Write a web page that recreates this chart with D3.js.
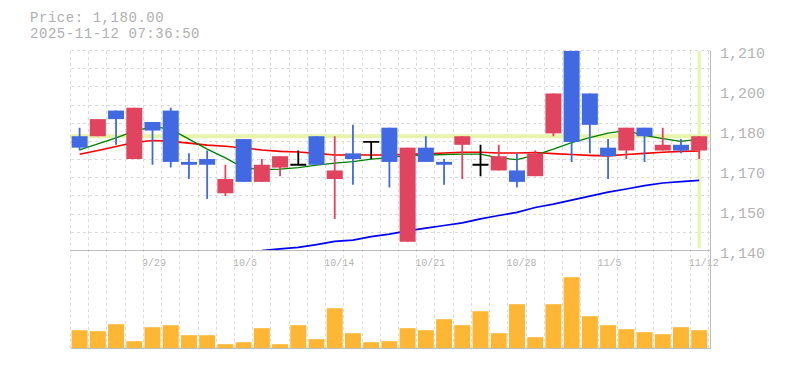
<!DOCTYPE html>
<html>
<head>
<meta charset="utf-8">
<title>Price chart</title>
<style>
  body { margin: 0; background: #fff; }
  svg { display: block; }
  text { font-family: "Liberation Mono", "DejaVu Sans Mono", monospace; fill: #b0b0b0; }
</style>
</head>
<body>
<svg></svg>
<script src="https://d3js.org/d3.v7.min.js"></script>
<script>
// daily candles, 9/22 .. 11/12
var dates = ["9/22","9/24","9/25","9/26","9/29","9/30","10/1","10/2","10/3","10/6",
             "10/7","10/8","10/9","10/10","10/14","10/15","10/16","10/17","10/20","10/21",
             "10/22","10/23","10/24","10/27","10/28","10/29","10/30","10/31","11/4","11/5",
             "11/6","11/7","11/10","11/11","11/12"];
var opens  = [1180,1180,1189,1172,1185,1189,1171,1172,1160,1179,
              1164,1169,1170,1180,1165,1174,1178,1183,1143,1176,
              1171,1177,1170,1168,1168,1166,1181,1210,1195,1176,
              1175,1183,1175,1177,1175];
var highs  = [1183,1186,1189,1190,1185,1190,1174,1175,1170,1179,
              1172,1173,1175,1180,1180,1184,1178,1183,1176,1180,
              1172,1180,1177,1177,1174,1175,1195,1210,1195,1179,
              1183,1183,1183,1179,1180];
var lows   = [1175,1180,1177,1172,1170,1169,1165,1158,1159,1164,
              1164,1166,1170,1170,1151,1163,1172,1162,1143,1171,
              1163,1165,1166,1168,1162,1166,1180,1171,1174,1165,
              1172,1171,1175,1174,1172];
var closes = [1176,1186,1186,1190,1182,1171,1170,1170,1165,1164,
              1170,1173,1170,1170,1168,1172,1178,1171,1176,1171,
              1170,1180,1170,1173,1164,1174,1195,1178,1184,1173,
              1183,1180,1177,1175,1180];
// moving averages (green / red / blue)
var ma5  = [1175.2,1177.3,1179.4,1181.8,1183.4,1182.5,1179,1175.5,1172.4,1168.9,
            1168.3,1168.5,1169,1169.9,1170.6,1171.1,1172,1172.5,1173.3,1173.4,
            1173.6,1173.7,1173.7,1172.4,1171.8,1173.4,1175.5,1177.8,1179.5,1181.1,
            1182,1180.3,1179.2,1178.2,1179];
var ma25 = [1173.7,1175,1176.4,1177.8,1178.5,1178.2,1177.6,1176.9,1176.5,1175.9,
            1175.2,1174.7,1174.5,1174,1173.4,1173.4,1173.4,1173.4,1173.7,1173.8,
            1174.1,1174.4,1174.4,1174.1,1174.1,1174.3,1173.9,1173.6,1173.3,1173.1,
            1173.6,1174,1174.4,1174.7,1174.8];
var ma75 = [null,null,null,null,null,null,null,null,null,null,
            1139.9,1140.5,1141,1142,1143.1,1143.6,1144.8,1145.7,1146.8,1147.8,
            1148.7,1149.6,1151,1152.2,1153.3,1155,1156.2,1157.6,1159,1160.4,
            1161.5,1162.7,1163.6,1164.1,1164.5];
var volumes = [183,173,243,73,213,233,133,133,43,63,
               203,43,233,93,403,153,63,73,203,183,
               293,233,373,153,443,113,443,713,323,233,
               193,163,143,213,183];
var priceTicks = [1140, 1154, 1168, 1182, 1196, 1210];
var dateTicks = ["9/29","10/6","10/14","10/21","10/28","11/5","11/12"];
var lastPrice = 1180;
var titleLines = ["Price: 1,180.00", "2025-11-12 07:36:50"];

var svg = d3.select("svg").attr("width", 785).attr("height", 370);

// plot frame
var plotLeft = 70.5, plotRight = 708.3, frameRight = 710.5;
var plotTop = 50.7, plotBottom = 250.3, volBottom = 348.5;

var x = d3.scaleBand().domain(d3.range(dates.length)).range([plotLeft, plotRight]);
var y = d3.scaleLinear().domain([1140, 1210]).range([plotBottom, plotTop]);
var yVol = d3.scaleLinear().domain([0, 780]).range([volBottom, 270.5]);
var cx = function(i) { return x(i) + x.bandwidth() / 2; };
var bodyW = 16;

var up = "#e0445f", down = "#4169e1";

// date labels (the grid runs over them)
var xAxis = d3.axisBottom(x)
    .tickValues(dateTicks.map(function(d) { return dates.indexOf(d); }))
    .tickFormat(function(i) { return dates[i]; })
    .tickSize(0);
var gx = svg.append("g").attr("transform", "translate(0," + 250.5 + ")").call(xAxis);
gx.select(".domain").remove();
gx.selectAll("text")
    .attr("x", -10.5).attr("y", 15.5).attr("dy", null)
    .attr("text-anchor", "start")
    .style("font-size", "10px").style("fill", "#b4b4b4");

// grid
var grid = svg.append("g")
    .attr("stroke", "#dcdcdc").attr("stroke-dasharray", "3,3")
    .attr("shape-rendering", "crispEdges");
var vlines = d3.range(dates.length + 1).map(function(k) { return plotLeft + k * x.step(); });
grid.selectAll(".v").data(vlines).enter().append("line")
    .attr("x1", function(d) { return d; }).attr("x2", function(d) { return d; })
    .attr("y1", plotTop).attr("y2", volBottom);
var hlines = d3.range(11).map(function(k) { return plotTop + k * (plotBottom - plotTop) / 11; });
grid.selectAll(".h").data(hlines).enter().append("line")
    .attr("x1", plotLeft).attr("x2", frameRight)
    .attr("y1", function(d) { return d; }).attr("y2", function(d) { return d; });

// current price / current day markers
svg.append("line")
    .attr("x1", plotLeft).attr("x2", frameRight)
    .attr("y1", y(lastPrice)).attr("y2", y(lastPrice))
    .attr("stroke", "#e6f5a9").attr("stroke-width", 4);
svg.append("line")
    .attr("x1", cx(dates.length - 1)).attr("x2", cx(dates.length - 1))
    .attr("y1", plotTop + 0.5).attr("y2", plotBottom - 2)
    .attr("stroke", "#e6f5a9").attr("stroke-width", 3);

// moving average lines
svg.append("clipPath").attr("id", "plotclip").append("rect")
    .attr("x", plotLeft).attr("y", plotTop).attr("width", frameRight - plotLeft).attr("height", plotBottom - plotTop);
var line = d3.line()
    .defined(function(d) { return d != null; })
    .x(function(d, i) { return cx(i); })
    .y(function(d) { return y(d); });
[[ma25, "#ff0000", 1.6], [ma5, "#008000", 1.3], [ma75, "#0000ff", 1.7]].forEach(function(m) {
    svg.append("path").datum(m[0])
        .attr("clip-path", "url(#plotclip)")
        .attr("fill", "none").attr("stroke", m[1]).attr("stroke-width", m[2])
        .attr("d", line);
});

// candles
var candles = d3.range(dates.length).map(function(i) {
    return {i: i, o: opens[i], h: highs[i], l: lows[i], c: closes[i]};
});
function colorOf(d) { return d.c > d.o ? up : (d.c < d.o ? down : "#000"); }
var cg = svg.append("g").attr("clip-path", "url(#plotclip)");
cg.selectAll(".wick").data(candles).enter().append("line")
    .attr("x1", function(d) { return cx(d.i); }).attr("x2", function(d) { return cx(d.i); })
    .attr("y1", function(d) { return y(d.h); }).attr("y2", function(d) { return y(d.l); })
    .attr("stroke", colorOf).attr("stroke-width", 1.8);
cg.selectAll(".body").data(candles.filter(function(d) { return d.o !== d.c; })).enter().append("rect")
    .attr("x", function(d) { return cx(d.i) - bodyW / 2; })
    .attr("width", bodyW)
    .attr("y", function(d) { return y(Math.max(d.o, d.c)); })
    .attr("height", function(d) { return Math.abs(y(d.o) - y(d.c)); })
    .attr("fill", colorOf);
cg.selectAll(".doji").data(candles.filter(function(d) { return d.o === d.c; })).enter().append("line")
    .attr("x1", function(d) { return cx(d.i) - bodyW / 2; })
    .attr("x2", function(d) { return cx(d.i) + bodyW / 2; })
    .attr("y1", function(d) { return y(d.o); }).attr("y2", function(d) { return y(d.o); })
    .attr("stroke", "#000").attr("stroke-width", 1.8);

// volume
svg.selectAll(".vol").data(volumes).enter().append("rect")
    .attr("x", function(d, i) { return cx(i) - bodyW / 2; })
    .attr("width", bodyW)
    .attr("y", function(d) { return yVol(d); })
    .attr("height", function(d) { return volBottom - yVol(d); })
    .attr("fill", "#fdb735");

// frame lines
var frame = svg.append("g").attr("stroke", "#bdbdbd").attr("stroke-width", 1).attr("shape-rendering", "crispEdges");
frame.append("line").attr("x1", plotLeft).attr("x2", frameRight).attr("y1", 250.5).attr("y2", 250.5);
frame.append("line").attr("x1", plotLeft).attr("x2", frameRight).attr("y1", volBottom).attr("y2", volBottom);
frame.append("line").attr("x1", frameRight).attr("x2", frameRight).attr("y1", plotTop).attr("y2", volBottom);

// price axis, labels rounded to tens like the original
var yAxis = d3.axisRight(y)
    .tickValues(priceTicks)
    .tickFormat(function(d) { return d3.format(",")(Math.round(d / 10) * 10); })
    .tickSize(0).tickPadding(0);
var gy = svg.append("g").attr("transform", "translate(720,0)").call(yAxis);
gy.select(".domain").remove();
gy.selectAll("text").attr("dy", "0.47em").style("font-size", "15px").style("fill", "#b4b4b4");

// title, two lines
svg.selectAll(".title").data(titleLines).enter().append("text")
    .attr("x", 30).attr("y", function(d, i) { return 22 + i * 16; })
    .style("font-size", "14px").style("letter-spacing", "0.55px")
    .text(function(d) { return d; });
</script>
</body>
</html>
